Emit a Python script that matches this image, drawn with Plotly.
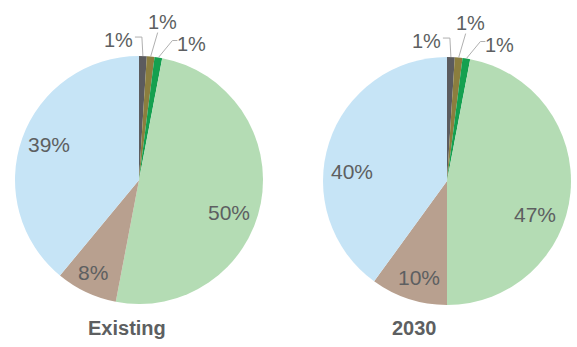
import math
import plotly.graph_objects as go

# Share of each category, listed clockwise from 12 o'clock
categories = ["Category A", "Category B", "Category C", "Category D", "Category E", "Category F"]
existing_values = [1, 1, 1, 50, 8, 39]
future_values = [1, 1, 1, 47, 10, 40]
pie_titles = ["Existing", "2030"]

colors = ["#5b5b5e", "#8b7e3e", "#14a04f", "#b4dcb4", "#b8a08f", "#c6e4f6"]
text_color = "#5d5f61"
leader_color = "#b0b0b0"
font_family = "Liberation Sans, Arial, sans-serif"

W, H = 577, 347
R = 124                                   # pie radius, px
centers = [(139, 180), (447, 181)]        # pie centres, px from top-left
title_x = [127, 414]                      # title centres, px
title_y = 328

# Leader lines of the thin slices: elbow offset from rim point, horizontal run,
# and label centre offset from the rim point (all px)
leader_style = [
    dict(elbow=(-1, -19), run=-7, label=(-24, -16)),
    dict(elbow=(7, -24), run=0, label=(12, -35)),
    dict(elbow=(14, -17), run=5, label=(33, -14)),
]
# Small pixel nudges of the inside labels (Existing, 2030)
inside_nudge = [
    [(-5, 14), (-5, 5), (1, -3)],
    [(-8, 24), (2, 5), (-3, 20)],
]


def to_paper(px, py):
    return px / W, (H - py) / H


fig = go.Figure()
annotations = []
shapes = []
for k, (vals, title, (cx, cy)) in enumerate(zip([existing_values, future_values], pie_titles, centers)):
    dom_x = [(cx - R) / W, (cx + R) / W]
    dom_y = [(H - cy - R) / H, (H - cy + R) / H]
    fig.add_trace(go.Pie(
        labels=categories,
        values=vals,
        sort=False,
        direction="clockwise",
        rotation=0,
        marker=dict(colors=colors, line=dict(width=0)),
        textinfo="none",
        domain=dict(x=dom_x, y=dom_y),
        showlegend=False,
        hoverinfo="skip",
    ))

    total = sum(vals)
    acc = 0.0
    small_i = 0
    big_i = 0
    for v in vals:
        mid = (acc + v / 2) / total * 2 * math.pi   # clockwise from top
        acc += v
        if v <= 2:
            st = leader_style[small_i]
            small_i += 1
            rx = cx + R * math.sin(mid)
            ry = cy - R * math.cos(mid)
            ex, ey = rx + st["elbow"][0], ry + st["elbow"][1]
            hx = ex + st["run"]
            pts = [to_paper(rx, ry), to_paper(ex, ey), to_paper(hx, ey)]
            path = "M {} {} L {} {} L {} {}".format(*[c for p in pts for c in p])
            shapes.append(dict(type="path", path=path, xref="paper", yref="paper",
                               line=dict(color=leader_color, width=1)))
            lx, ly = to_paper(rx + st["label"][0], ry + st["label"][1])
            annotations.append(dict(
                x=lx, y=ly, xref="paper", yref="paper", xanchor="center", yanchor="middle",
                text=f"{v}%", showarrow=False,
                font=dict(family=font_family, size=20, color=text_color),
            ))
        else:
            dx, dy = inside_nudge[k][big_i]
            big_i += 1
            f = 0.78
            px = cx + f * R * math.sin(mid) + dx
            py = cy - f * R * math.cos(mid) + dy
            lx, ly = to_paper(px, py)
            annotations.append(dict(
                x=lx, y=ly, xref="paper", yref="paper", xanchor="center", yanchor="middle",
                text=f"{v}%", showarrow=False,
                font=dict(family=font_family, size=21, color=text_color),
            ))

    tx, ty = to_paper(title_x[k], title_y)
    annotations.append(dict(
        x=tx, y=ty, xref="paper", yref="paper", xanchor="center", yanchor="middle",
        text=f"<b>{title}</b>", showarrow=False,
        font=dict(family=font_family, size=20, color=text_color),
    ))

fig.update_layout(
    width=W,
    height=H,
    margin=dict(l=0, r=0, t=0, b=0),
    paper_bgcolor="white",
    plot_bgcolor="white",
    annotations=annotations,
    shapes=shapes,
)

fig.write_html("out.html")
